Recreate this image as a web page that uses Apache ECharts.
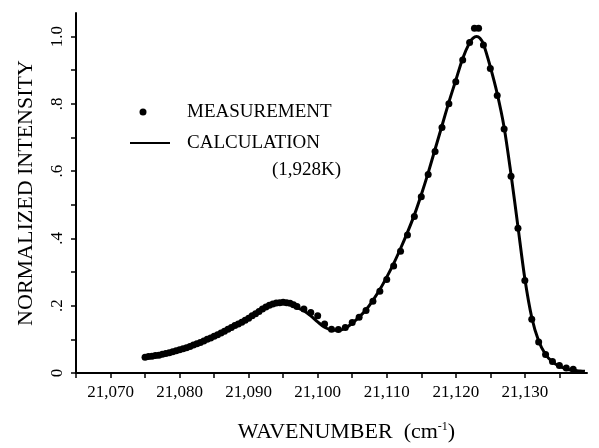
<!DOCTYPE html>
<html>
<head>
<meta charset="utf-8">
<script src="https://cdn.jsdelivr.net/npm/echarts@6/dist/echarts.min.js"></script>
<style>
  html, body { margin: 0; padding: 0; background: #fff; }
  #chart { width: 599px; height: 448px; }
</style>
</head>
<body>
<div id="chart"></div>
<script>
// measured points (wavenumber, normalized intensity)
const measWave = [21075, 21075.5, 21076, 21076.5, 21077, 21077.5, 21078, 21078.5, 21079, 21079.5,
  21080, 21080.5, 21081, 21081.5, 21082, 21082.5, 21083, 21083.5, 21084, 21084.5,
  21085, 21085.5, 21086, 21086.5, 21087, 21087.5, 21088, 21088.5, 21089, 21089.5,
  21090, 21090.5, 21091, 21091.5, 21092, 21092.5, 21093, 21093.5, 21094, 21094.5,
  21095, 21095.5, 21096, 21096.5, 21097, 21098, 21099, 21100, 21101, 21102, 21103, 21104,
  21105, 21106, 21107, 21108, 21109, 21110, 21111, 21112, 21113, 21114,
  21115, 21116, 21117, 21118, 21119, 21120, 21121, 21122, 21122.7, 21123.3,
  21124, 21125, 21126, 21127, 21128, 21129, 21130, 21131, 21132, 21133,
  21134, 21135, 21136, 21137];
const measValue = [0.047, 0.049, 0.050, 0.052, 0.053, 0.056, 0.058, 0.060, 0.063, 0.066,
  0.069, 0.072, 0.075, 0.079, 0.083, 0.087, 0.091, 0.095, 0.100, 0.104,
  0.109, 0.114, 0.119, 0.124, 0.130, 0.135, 0.141, 0.146, 0.151, 0.157,
  0.163, 0.170, 0.176, 0.183, 0.190, 0.196, 0.201, 0.205, 0.208, 0.209,
  0.210, 0.209, 0.207, 0.203, 0.198, 0.190, 0.180, 0.170, 0.146, 0.130, 0.129, 0.135,
  0.150, 0.166, 0.186, 0.213, 0.243, 0.278, 0.318, 0.362, 0.410, 0.465,
  0.524, 0.590, 0.658, 0.730, 0.800, 0.866, 0.930, 0.982, 1.025, 1.025,
  0.975, 0.905, 0.825, 0.725, 0.585, 0.430, 0.275, 0.160, 0.092, 0.055,
  0.034, 0.022, 0.015, 0.011];

// calculated curve (1,928K)
const calcWave = [21075.2, 21076, 21078, 21080, 21082, 21084, 21086, 21088, 21090, 21092,
  21093, 21094, 21095, 21096, 21097, 21098, 21099, 21100, 21101, 21102,
  21103, 21104, 21105, 21106, 21107, 21108, 21109, 21110, 21111, 21112,
  21113, 21114, 21115, 21116, 21117, 21118, 21119, 21120, 21121, 21122,
  21122.5, 21123, 21123.5, 21124, 21125, 21126, 21127, 21128, 21129, 21130,
  21131, 21132, 21133, 21134, 21135, 21136, 21137, 21138, 21138.7];
const calcValue = [0.045, 0.048, 0.056, 0.067, 0.081, 0.098, 0.118, 0.140, 0.162, 0.189,
  0.200, 0.207, 0.209, 0.205, 0.194, 0.185, 0.170, 0.152, 0.136, 0.128,
  0.127, 0.133, 0.148, 0.166, 0.188, 0.216, 0.248, 0.285, 0.325, 0.370,
  0.418, 0.470, 0.530, 0.595, 0.665, 0.735, 0.805, 0.870, 0.935, 0.982,
  0.995, 1.000, 0.995, 0.978, 0.910, 0.830, 0.730, 0.590, 0.435, 0.280,
  0.165, 0.095, 0.055, 0.033, 0.020, 0.012, 0.008, 0.006, 0.005];

const xTicks = [21065, 21070, 21075, 21080, 21085, 21090, 21095, 21100, 21105, 21110,
  21115, 21120, 21125, 21130, 21135];
const xLabels = [21070, 21080, 21090, 21100, 21110, 21120, 21130];
const yTicks = [0, 0.1, 0.2, 0.3, 0.4, 0.5, 0.6, 0.7, 0.8, 0.9, 1.0];
const yLabels = [0, 0.2, 0.4, 0.6, 0.8, 1.0];

const serif = '"Liberation Serif", "DejaVu Serif", serif';

const chart = echarts.init(document.getElementById('chart'), null, { renderer: 'canvas' });

const option = {
  animation: false,
  backgroundColor: '#fff',
  grid: { left: 76, right: 12, top: 13, bottom: 67, containLabel: false },
  xAxis: {
    type: 'value',
    min: 21065,
    max: 21139,
    splitLine: { show: false },
    axisLine: { show: true, lineStyle: { color: '#000', width: 2 } },
    axisTick: { show: true, customValues: xTicks, length: 5, lineStyle: { color: '#000', width: 1.5 } },
    axisLabel: {
      customValues: xLabels,
      margin: 11,
      color: '#000',
      fontFamily: serif,
      fontSize: 17,
      formatter: v => String(v).replace(/(\d{2})(\d{3})/, '$1,$2')
    },
    name: '{a|WAVENUMBER  (cm}{s|-1}{a|)}',
    nameLocation: 'middle',
    nameGap: 48,
    nameTextStyle: {
      padding: [0, 0, 0, 30],
      rich: {
        a: { fontFamily: serif, fontSize: 22, color: '#000' },
        s: { fontFamily: serif, fontSize: 12, color: '#000', verticalAlign: 'top', padding: [0, 0, 10, 0] }
      }
    }
  },
  yAxis: {
    type: 'value',
    min: 0,
    max: 1.07,
    splitLine: { show: false },
    axisLine: { show: true, lineStyle: { color: '#000', width: 2 } },
    axisTick: { show: true, customValues: yTicks, length: 5, lineStyle: { color: '#000', width: 1.5 } },
    axisLabel: {
      customValues: yLabels,
      rotate: 90,
      margin: 10,
      color: '#000',
      fontFamily: serif,
      fontSize: 17,
      formatter: v => v === 0 ? '0' : (v >= 1 ? v.toFixed(1) : v.toFixed(1).replace(/^0/, ''))
    },
    name: 'NORMALIZED INTENSITY',
    nameLocation: 'middle',
    nameGap: 39,
    nameTextStyle: { fontFamily: serif, fontSize: 22, color: '#000' }
  },
  series: [
    {
      name: 'MEASUREMENT',
      type: 'scatter',
      symbol: 'circle',
      symbolSize: 7,
      itemStyle: { color: '#000', opacity: 1 },
      data: measWave.map((w, i) => [w, measValue[i]]),
      z: 2
    },
    {
      name: 'CALCULATION',
      type: 'line',
      showSymbol: false,
      smooth: 0.3,
      lineStyle: { color: '#000', width: 3 },
      data: calcWave.map((w, i) => [w, calcValue[i]]),
      z: 3
    }
  ],
  graphic: [
    { type: 'circle', shape: { cx: 143, cy: 112, r: 3.5 }, style: { fill: '#000' } },
    { type: 'line', shape: { x1: 130, y1: 143, x2: 170, y2: 143 }, style: { stroke: '#000', lineWidth: 2 } },
    { type: 'text', x: 187, y: 112, style: { text: 'MEASUREMENT', font: '19px ' + serif, fill: '#000', verticalAlign: 'middle' } },
    { type: 'text', x: 187, y: 143, style: { text: 'CALCULATION', font: '19px ' + serif, fill: '#000', verticalAlign: 'middle' } },
    { type: 'text', x: 272, y: 170, style: { text: '(1,928K)', font: '19px ' + serif, fill: '#000', verticalAlign: 'middle' } }
  ]
};

chart.setOption(option);
</script>
</body>
</html>
